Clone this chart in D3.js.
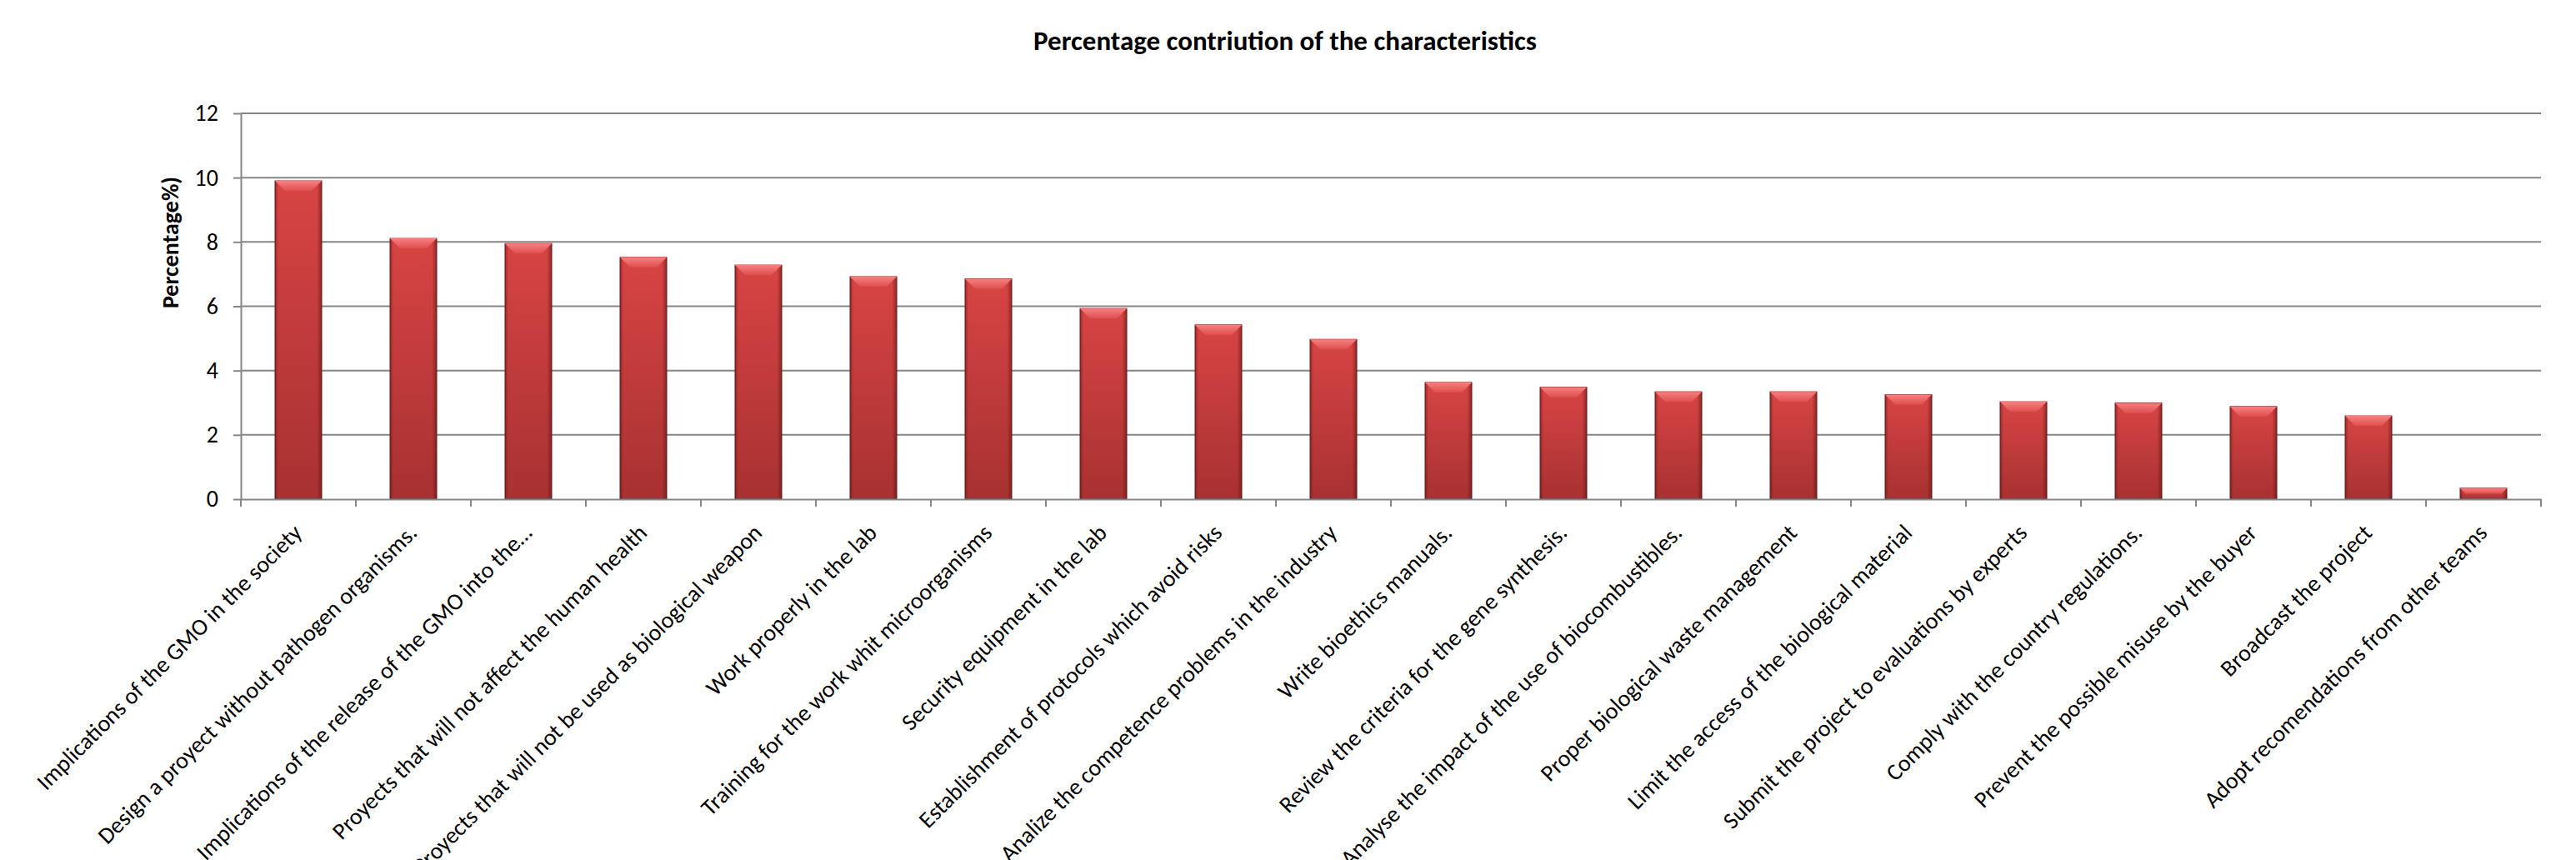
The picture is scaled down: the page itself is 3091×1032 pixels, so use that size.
<!DOCTYPE html>
<html>
<head>
<meta charset="utf-8">
<title>Percentage contriution of the characteristics</title>
<style>
  body { margin: 0; background: #fff; }
</style>
</head>
<body>
<div id="chart"></div>
<script src="https://cdn.jsdelivr.net/npm/d3@7"></script>
<script>
// data
var categories = [
  "Implications of the GMO in the society",
  "Design a proyect without pathogen organisms.",
  "Implications of the release of the GMO into the\u2026",
  "Proyects that will not affect the human health",
  "Proyects that will not be used as biological weapon",
  "Work properly in the lab",
  "Training for the work whit microorganisms",
  "Security equipment in the lab",
  "Establishment of protocols which avoid risks",
  "Analize the competence problems in the industry",
  "Write bioethics manuals.",
  "Review the criteria for the gene synthesis.",
  "Analyse the impact of the use of biocombustibles.",
  "Proper biological waste management",
  "Limit the access of the biological material",
  "Submit the project to evaluations by experts",
  "Comply with the country regulations.",
  "Prevent the possible misuse by the buyer",
  "Broadcast the project",
  "Adopt recomendations from other teams"
];
var percentages = [9.90, 8.11, 7.95, 7.52, 7.28, 6.92, 6.85, 5.93, 5.42, 4.97,
                   3.63, 3.48, 3.34, 3.34, 3.25, 3.03, 2.99, 2.88, 2.59, 0.34];
var yTicks = [0, 2, 4, 6, 8, 10, 12];
var chartTitle = "Percentage contriution of the characteristics";
var yTitle = "Percentage%)";

var width = 3091, height = 1032;
// plot area edges (note: "top" is taken by window.top)
var plotL = 289, plotR = 3049, plotT = 136, plotB = 599;
var font = "Calibri, Carlito, Lato, sans-serif";
var grey = "#868686";

var svg = d3.select("#chart").append("svg")
    .attr("width", width).attr("height", height)
    .style("display", "block");

svg.append("rect").attr("width", width).attr("height", height).attr("fill", "#fff");

var x = d3.scaleBand().domain(categories).range([plotL, plotR])
    .paddingInner(0.594).paddingOuter(0.297);
var y = d3.scaleLinear().domain([0, 12]).range([plotB, plotT]);

// gradients for the bevelled bars
var defs = svg.append("defs");
var body = defs.append("linearGradient").attr("id", "barBody")
    .attr("x1", 0).attr("y1", 0).attr("x2", 0).attr("y2", 1);
body.append("stop").attr("offset", "0%").attr("stop-color", "#d84444");
body.append("stop").attr("offset", "100%").attr("stop-color", "#a83131");

var sides = defs.append("linearGradient").attr("id", "barSides")
    .attr("x1", 0).attr("y1", 0).attr("x2", 1).attr("y2", 0);
sides.append("stop").attr("offset", "0%").attr("stop-color", "#5a1414").attr("stop-opacity", 0.55);
sides.append("stop").attr("offset", "7%").attr("stop-color", "#5a1414").attr("stop-opacity", 0.0);
sides.append("stop").attr("offset", "90%").attr("stop-color", "#5a1414").attr("stop-opacity", 0.0);
sides.append("stop").attr("offset", "100%").attr("stop-color", "#5a1414").attr("stop-opacity", 0.6);

var bevel = defs.append("linearGradient").attr("id", "barBevel")
    .attr("x1", 0).attr("y1", 0).attr("x2", 0).attr("y2", 1);
bevel.append("stop").attr("offset", "0%").attr("stop-color", "#f68080");
bevel.append("stop").attr("offset", "100%").attr("stop-color", "#de4f4f");

// gridlines
svg.append("g").selectAll("line")
    .data(yTicks.filter(function (d) { return d > 0; }))
    .enter().append("line")
    .attr("x1", plotL).attr("x2", plotR)
    .attr("y1", function (d) { return y(d); })
    .attr("y2", function (d) { return y(d); })
    .attr("stroke", grey).attr("stroke-width", 2);

// bars
var bars = svg.append("g").selectAll("g")
    .data(percentages)
    .enter().append("g");

bars.append("rect")
    .attr("x", function (d, i) { return x(categories[i]); })
    .attr("y", function (d) { return y(d); })
    .attr("width", x.bandwidth())
    .attr("height", function (d) { return y(0) - y(d); })
    .attr("fill", "url(#barBody)")
    .attr("stroke", "#7a2222").attr("stroke-width", 1);

bars.append("rect")
    .attr("x", function (d, i) { return x(categories[i]); })
    .attr("y", function (d) { return y(d); })
    .attr("width", x.bandwidth())
    .attr("height", function (d) { return y(0) - y(d); })
    .attr("fill", "url(#barSides)");

bars.append("polygon")
    .attr("points", function (d, i) {
        var x0 = x(categories[i]), x1 = x0 + x.bandwidth(), t = y(d);
        var b = Math.min(12, (y(0) - t) * 0.5);
        return [[x0, t], [x1, t], [x1 - b, t + b], [x0 + b, t + b]].join(" ");
    })
    .attr("fill", "url(#barBevel)");

// y axis
var yAxis = svg.append("g")
    .attr("transform", "translate(" + plotL + ",0)")
    .call(d3.axisLeft(y).tickValues(yTicks).tickSize(9).tickSizeOuter(0).tickPadding(18));
yAxis.select(".domain").attr("stroke", grey).attr("stroke-width", 2);
yAxis.selectAll(".tick line").attr("stroke", grey).attr("stroke-width", 2);
yAxis.selectAll(".tick text")
    .attr("font-family", font).attr("font-size", 28).attr("fill", "#000");

// x axis
var xAxis = svg.append("g")
    .attr("transform", "translate(0," + plotB + ")")
    .call(d3.axisBottom(x).tickSize(0).tickSizeOuter(0));
xAxis.select(".domain").attr("stroke", grey).attr("stroke-width", 2);
xAxis.selectAll(".tick text")
    .attr("font-family", font).attr("font-size", 28).attr("fill", "#000")
    .attr("y", 0).attr("dy", 0)
    .attr("text-anchor", "end")
    .attr("transform", "translate(6,42) rotate(-45)");

// category boundary ticks
svg.append("g").selectAll("line")
    .data(d3.range(categories.length + 1))
    .enter().append("line")
    .attr("x1", function (i) { return plotL + i * x.step(); })
    .attr("x2", function (i) { return plotL + i * x.step(); })
    .attr("y1", plotB).attr("y2", plotB + 9)
    .attr("stroke", grey).attr("stroke-width", 2);

// titles
svg.append("text")
    .text(chartTitle)
    .attr("x", 1542).attr("y", 60)
    .attr("text-anchor", "middle")
    .attr("font-family", font).attr("font-weight", "bold").attr("font-size", 33)
    .attr("fill", "#000");

svg.append("text")
    .text(yTitle)
    .attr("transform", "translate(214,291) rotate(-90)")
    .attr("text-anchor", "middle")
    .attr("font-family", font).attr("font-weight", "bold").attr("font-size", 28)
    .attr("fill", "#000");
</script>
</body>
</html>
